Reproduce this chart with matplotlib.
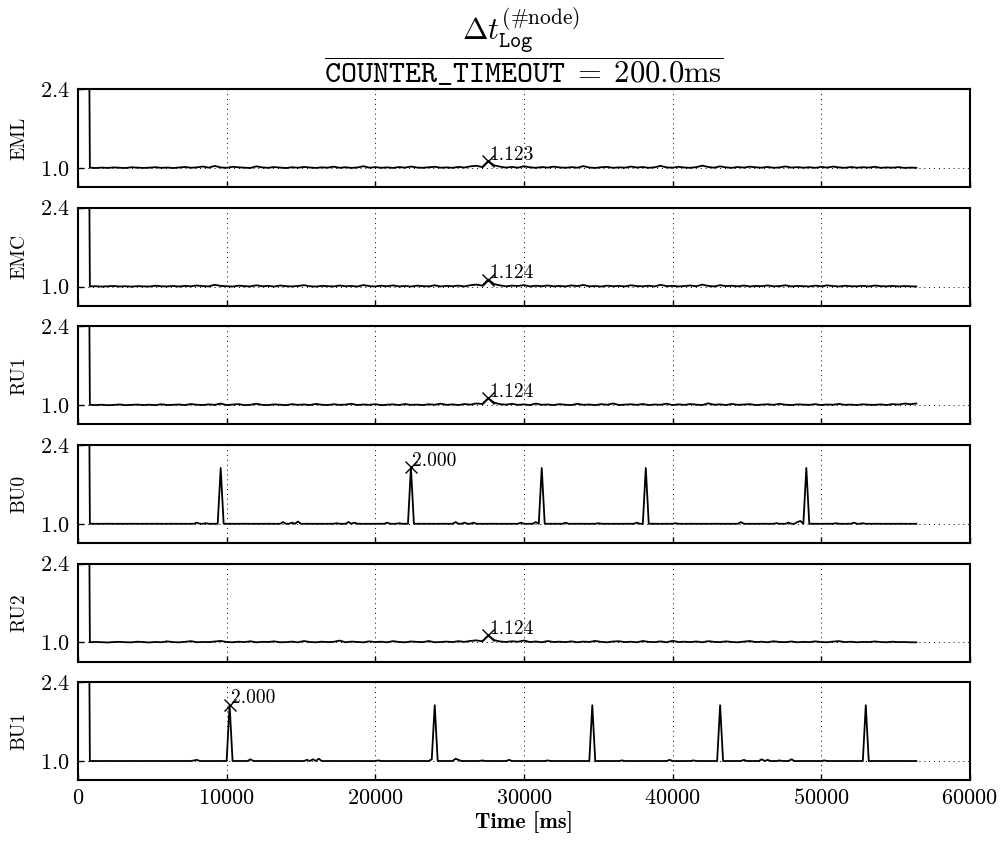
import numpy as np
import matplotlib.pyplot as plt

plt.rcParams['font.family'] = 'serif'
plt.rcParams['font.serif'] = ['cmr10']
plt.rcParams['mathtext.fontset'] = 'cm'
plt.rcParams['axes.formatter.use_mathtext'] = True
plt.rcParams['axes.unicode_minus'] = False

# node names, top to bottom
nodes = ['EML', 'EMC', 'RU1', 'BU0', 'RU2', 'BU1']

# first sample of every node: start-up spike (off scale)
start_t = 600
start_v = 10.0

# noisy nodes: one sample every 400 ms from 800 ms, deviation from 1.0 in 1/1000
t_noise = np.arange(800, 56401, 400)

eml_dev = [4, -2, 6, 0, 9, 3, -1, 11, 5, 0, 4, 13, 1, 7, -2, 8, 17, 3, 10, 25,
           5, 36, 8, 2, 20, 11, 4, -1, 28, 9, 2, 16, 5, -2, 12, 3, 18, 7, 0, 10,
           5, 22, 2, 12, 0, 8, 30, 4, 14, 2, 10, 0, 16, 5, 24, 7, 2, 12, 20, 4,
           9, 2, 18, 7, 28, 38, 15, 123, 45, 22, 6, 18, 4, 30, 11, 2, 16, 6, 22, 9,
           3, 14, 4, 32, 7, 0, 12, 18, 2, 10, 4, 24, 7, 16, 2, 11, 36, 9, 4, 20,
           7, 2, 14, 40, 17, 4, 28, 9, 2, 16, 6, 22, 11, 4, 18, 2, 9, 26, 6, 14,
           4, 12, 2, 18, 6, 24, 9, 2, 16, 4, 12, 6, 20, 2, 9, 4, 14, 0, 6, 2]

emc_dev = [2, 6, -1, 4, 10, 1, 6, -2, 8, 3, 1, 14, 5, 2, 10, 0, 12, 5, 18, 7,
           3, 30, 11, 5, 0, 16, 7, 2, 22, 5, 12, 0, 18, 7, 2, 10, 24, 5, 0, 12,
           7, 2, 18, 5, 10, 0, 26, 7, 2, 14, 5, 20, 2, 10, 0, 16, 7, 4, 22, 2,
           12, 5, 16, 2, 24, 34, 17, 124, 42, 20, 4, 16, 9, 26, 2, 14, 6, 18, 4, 11,
           2, 20, 7, 28, 4, 9, 0, 16, 5, 12, 2, 22, 9, 4, 14, 2, 30, 7, 12, 2,
           9, 18, 5, 34, 11, 2, 24, 7, 14, 4, 18, 2, 11, 6, 20, 4, 9, 22, 2, 11,
           7, 2, 16, 4, 20, 9, 2, 14, 6, 4, 12, 2, 18, 7, 4, 11, 2, 9, 4, 1]

ru1_dev = [6, 1, 8, -1, 4, 12, 0, 6, 10, 2, 8, 0, 16, 3, 6, 12, 1, 20, 7, 2,
           14, 5, 28, 2, 10, 18, 0, 7, 24, 5, 2, 14, 7, 0, 18, 5, 12, 2, 22, 7,
           2, 16, 5, 10, 24, 2, 12, 5, 18, 0, 8, 14, 2, 20, 5, 10, 2, 16, 7, 26,
           5, 14, 2, 20, 9, 30, 21, 124, 44, 17, 9, 24, 5, 14, 2, 28, 7, 12, 2, 18,
           7, 2, 24, 5, 12, 0, 18, 7, 30, 2, 10, 16, 5, 20, 2, 12, 7, 26, 2, 14,
           5, 20, 9, 2, 32, 7, 14, 2, 22, 5, 12, 18, 2, 9, 16, 5, 24, 7, 2, 14,
           9, 5, 18, 2, 12, 7, 22, 5, 10, 2, 16, 7, 5, 14, 2, 18, 10, 28, 16, 30]

ru2_dev = [2, 8, 3, -1, 6, 10, 3, 1, 12, 5, -1, 8, 3, 18, 5, 1, 10, 22, 3, 8,
           5, 16, 26, 7, 2, 12, 5, 20, 1, 10, 7, 18, 2, 5, 14, 1, 24, 7, 2, 12,
           5, 10, 32, 2, 14, 7, 1, 18, 5, 12, 2, 22, 7, 2, 16, 9, 5, 24, 2, 7,
           14, 5, 22, 9, 26, 36, 19, 124, 40, 16, 7, 20, 11, 34, 5, 16, 2, 24, 7, 12,
           5, 18, 2, 14, 7, 26, 9, 2, 16, 20, 5, 12, 2, 24, 9, 5, 18, 2, 28, 7,
           12, 5, 16, 2, 22, 9, 5, 18, 7, 2, 14, 24, 5, 12, 2, 20, 7, 5, 16, 2,
           9, 5, 18, 7, 2, 14, 22, 5, 12, 2, 9, 5, 16, 7, 2, 12, 5, 7, 2, 1]

# BU nodes: one sample every 200 ms, 1.0 except at the listed times
t_bu = np.arange(800, 56401, 200)

bu0_evt_t = [8000, 8600, 9600, 13800, 14400, 14800, 17400, 18200, 18600,
             20800, 21600, 22400, 25400, 26000, 26600, 29800, 30800, 31200,
             32800, 35000, 37600, 38200, 40200, 44600, 47000, 47800, 48400,
             48600, 49000, 51000, 52200, 52800]
bu0_evt_v = [1.02, 1.01, 1.99, 1.03, 1.02, 1.04, 1.01, 1.03, 1.02,
             1.02, 1.01, 2.000, 1.03, 1.02, 1.02, 1.02, 1.03, 1.99,
             1.02, 1.01, 1.02, 1.99, 1.01, 1.03, 1.01, 1.02, 1.03,
             1.05, 1.99, 1.01, 1.02, 1.01]

bu1_evt_t = [7800, 8000, 10200, 11600, 15400, 15800, 16200, 20200, 23800,
             24000, 25400, 25600, 27200, 29000, 31600, 34600, 36600, 39800,
             41400, 43200, 44800, 46000, 46400, 47200, 48000, 50200, 53000]
bu1_evt_v = [1.01, 1.02, 2.000, 1.03, 1.02, 1.03, 1.04, 1.01, 1.03,
             1.99, 1.04, 1.02, 1.01, 1.02, 1.01, 1.99, 1.01, 1.02,
             1.01, 1.99, 1.02, 1.03, 1.02, 1.01, 1.03, 1.01, 1.99]


def noise_series(dev):
    t = np.concatenate([[start_t], t_noise])
    v = np.concatenate([[start_v], 1.0 + np.array(dev) / 1000.0])
    return t, v


def bu_series(evt_t, evt_v):
    v = np.ones(len(t_bu))
    for tt, vv in zip(evt_t, evt_v):
        v[np.searchsorted(t_bu, tt)] = vv
    return np.concatenate([[start_t], t_bu]), np.concatenate([[start_v], v])


series = [noise_series(eml_dev), noise_series(emc_dev), noise_series(ru1_dev),
          bu_series(bu0_evt_t, bu0_evt_v), noise_series(ru2_dev),
          bu_series(bu1_evt_t, bu1_evt_v)]

fig, axes = plt.subplots(6, 1, sharex=True, figsize=(10.05, 8.48), dpi=100)
fig.subplots_adjust(left=0.0776, right=0.965, top=0.895, bottom=0.080, hspace=0.21)

for ax, name, (t, v) in zip(axes, nodes, series):
    ax.plot(t, v, color='k', lw=1.3)
    # mark the largest value after start-up
    i = np.argmax(v[1:]) + 1
    ax.plot(t[i], v[i], 'x', color='k', ms=9, mew=1.0)
    ax.annotate('%.3f' % v[i], (t[i], v[i]), xytext=(1, -2),
                textcoords='offset points', ha='left', va='bottom', fontsize=14)
    ax.set_ylim(0.66, 2.4)
    ax.set_yticks([1.0, 2.4])
    ax.set_ylabel(name, fontsize=14, labelpad=8)
    ax.grid(True, color='k', linestyle=(0, (1, 4)), lw=0.7)
    ax.tick_params(direction='in', labelsize=16, width=1, length=4, pad=6)
    for s in ax.spines.values():
        s.set_linewidth(1.5)

axes[0].set_xlim(0, 60000)
axes[0].set_xticks([0, 10000, 20000, 30000, 40000, 50000, 60000])
axes[0].set_title(r'$\dfrac{\Delta t^{(\#\mathrm{node})}_{\mathtt{Log}}}'
                  r'{\mathtt{COUNTER\_TIMEOUT}\;=\;200.0\mathrm{ms}}$',
                  fontsize=22, pad=4)
axes[-1].set_xlabel('Time [ms]', fontname='cmb10', fontsize=16, labelpad=2)

fig.savefig('out.png', dpi=100)
